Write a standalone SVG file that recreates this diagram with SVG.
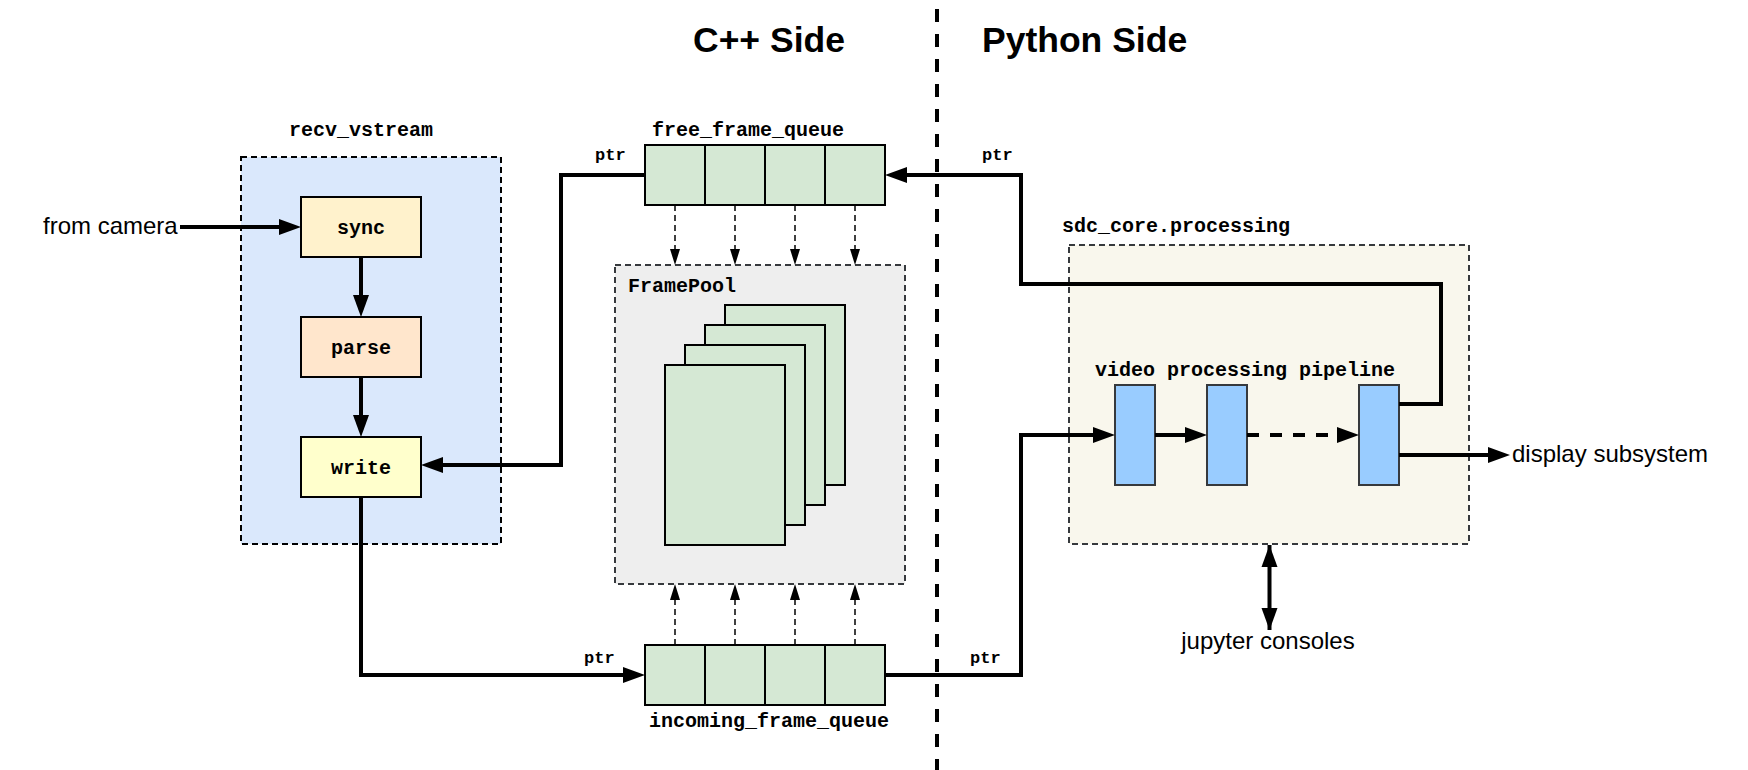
<svg xmlns="http://www.w3.org/2000/svg" width="1748" height="770" viewBox="0 0 1748 770">
<style>
.mono{font-family:"Liberation Mono","DejaVu Sans Mono",monospace;font-weight:bold;font-size:20px;fill:#000}
.ptr{font-size:17px}
.sans{font-family:"Liberation Sans",Arial,sans-serif;font-size:24px;fill:#000}
.title{font-family:"Liberation Sans",Arial,sans-serif;font-size:35.5px;font-weight:bold;fill:#000}
.box{stroke:#000;stroke-width:2}
.cont{stroke-width:2;stroke-dasharray:6 4}
.cell{fill:#d5e8d4;stroke:#000;stroke-width:2}
.blk{fill:#99ccff;stroke:#36393d;stroke-width:2}
.conn{fill:none;stroke:#000;stroke-width:4}
.thin{fill:none;stroke:#000;stroke-width:1.5;stroke-dasharray:6 4}
</style>
<defs>
<marker id="arr" markerUnits="userSpaceOnUse" markerWidth="22" markerHeight="16" refX="0" refY="8" orient="auto" overflow="visible">
<path d="M0,0 L22,8 L0,16 z" fill="#000"/>
</marker>
<marker id="arrs" markerUnits="userSpaceOnUse" markerWidth="22" markerHeight="16" refX="22" refY="8" orient="auto-start-reverse" overflow="visible">
<path d="M0,0 L22,8 L0,16 z" fill="#000"/>
</marker>
<marker id="sm" markerUnits="userSpaceOnUse" markerWidth="16" markerHeight="10" refX="0" refY="5" orient="auto" overflow="visible">
<path d="M0,0 L16,5 L0,10 z" fill="#000"/>
</marker>
</defs>

<rect width="1748" height="770" fill="#fff"/>

<g id="titles">
<text class="title" x="693" y="52">C++ Side</text>
<text class="title" x="982" y="52">Python Side</text>
<line x1="937" y1="9" x2="937" y2="770" stroke="#000" stroke-width="4" stroke-dasharray="13 12"/>
</g>

<g id="recv_vstream">
<rect x="241" y="157" width="260" height="387" fill="#dae8fc" stroke="#000" class="cont"/>
<text class="mono" x="361" y="136" text-anchor="middle">recv_vstream</text>
</g>
<g id="sync">
<rect x="301" y="197" width="120" height="60" fill="#fff2cc" class="box"/>
<text class="mono" x="361" y="233.5" text-anchor="middle">sync</text>
</g>
<g id="parse">
<rect x="301" y="317" width="120" height="60" fill="#ffe6cc" class="box"/>
<text class="mono" x="361" y="353.5" text-anchor="middle">parse</text>
</g>
<g id="write">
<rect x="301" y="437" width="120" height="60" fill="#ffffcc" class="box"/>
<text class="mono" x="361" y="473.5" text-anchor="middle">write</text>
</g>

<g id="free_frame_queue">
<rect class="cell" x="645" y="145" width="60" height="60"/>
<rect class="cell" x="705" y="145" width="60" height="60"/>
<rect class="cell" x="765" y="145" width="60" height="60"/>
<rect class="cell" x="825" y="145" width="60" height="60"/>
<text class="mono" x="652" y="136">free_frame_queue</text>
</g>

<g id="FramePool">
<rect x="615" y="265" width="290" height="319" fill="#eeeeee" stroke="#36393d" class="cont"/>
<text class="mono" x="628" y="292">FramePool</text>
<rect class="cell" x="725" y="305" width="120" height="180"/>
<rect class="cell" x="705" y="325" width="120" height="180"/>
<rect class="cell" x="685" y="345" width="120" height="180"/>
<rect class="cell" x="665" y="365" width="120" height="180"/>
</g>

<g id="incoming_frame_queue">
<rect class="cell" x="645" y="645" width="60" height="60"/>
<rect class="cell" x="705" y="645" width="60" height="60"/>
<rect class="cell" x="765" y="645" width="60" height="60"/>
<rect class="cell" x="825" y="645" width="60" height="60"/>
<text class="mono" x="649" y="727">incoming_frame_queue</text>
</g>

<g id="sdc_core_processing">
<rect x="1069" y="245" width="400" height="299" fill="#f9f7ed" stroke="#36393d" class="cont"/>
<text class="mono" x="1062" y="232">sdc_core.processing</text>
<text class="mono" x="1095" y="376">video processing pipeline</text>
</g>
<g id="stage1"><rect class="blk" x="1115" y="385" width="40" height="100"/></g>
<g id="stage2"><rect class="blk" x="1207" y="385" width="40" height="100"/></g>
<g id="stage3"><rect class="blk" x="1359" y="385" width="40" height="100"/></g>

<g id="from_camera"><text class="sans" x="43" y="234" font-size="23.5">from camera</text></g>
<g id="display_subsystem"><text class="sans" x="1512" y="462">display subsystem</text></g>
<g id="jupyter_consoles"><text class="sans" x="1268" y="649" text-anchor="middle">jupyter consoles</text></g>

<g id="connectors">
<path class="conn" d="M180,227 H279" marker-end="url(#arr)"/>
<path class="conn" d="M361,257 V295" marker-end="url(#arr)"/>
<path class="conn" d="M361,377 V415" marker-end="url(#arr)"/>
<path class="conn" d="M361,497 V675 H623" marker-end="url(#arr)"/>
<path class="conn" d="M645,175 H561 V465 H443" marker-end="url(#arr)"/>
<path class="conn" d="M1399,404 H1441 V284 H1021 V175 H907" marker-end="url(#arr)"/>
<path class="conn" d="M885,675 H1021 V435 H1093" marker-end="url(#arr)"/>
<path class="conn" d="M1155,435 H1185" marker-end="url(#arr)"/>
<path class="conn" d="M1247,435 H1337" stroke-dasharray="12 11" marker-end="url(#arr)"/>
<path class="conn" d="M1399,455 H1488" marker-end="url(#arr)"/>
<path class="conn" d="M1269.5,545 V630" stroke-width="3" marker-start="url(#arrs)" marker-end="url(#arrs)"/>
<path class="thin" d="M675,205 V249" marker-end="url(#sm)"/>
<path class="thin" d="M735,205 V249" marker-end="url(#sm)"/>
<path class="thin" d="M795,205 V249" marker-end="url(#sm)"/>
<path class="thin" d="M855,205 V249" marker-end="url(#sm)"/>
<path class="thin" d="M675,645 V600" marker-end="url(#sm)"/>
<path class="thin" d="M735,645 V600" marker-end="url(#sm)"/>
<path class="thin" d="M795,645 V600" marker-end="url(#sm)"/>
<path class="thin" d="M855,645 V600" marker-end="url(#sm)"/>
<text class="mono ptr" x="595" y="160">ptr</text>
<text class="mono ptr" x="982" y="160">ptr</text>
<text class="mono ptr" x="584" y="663">ptr</text>
<text class="mono ptr" x="970" y="663">ptr</text>
</g>
</svg>
